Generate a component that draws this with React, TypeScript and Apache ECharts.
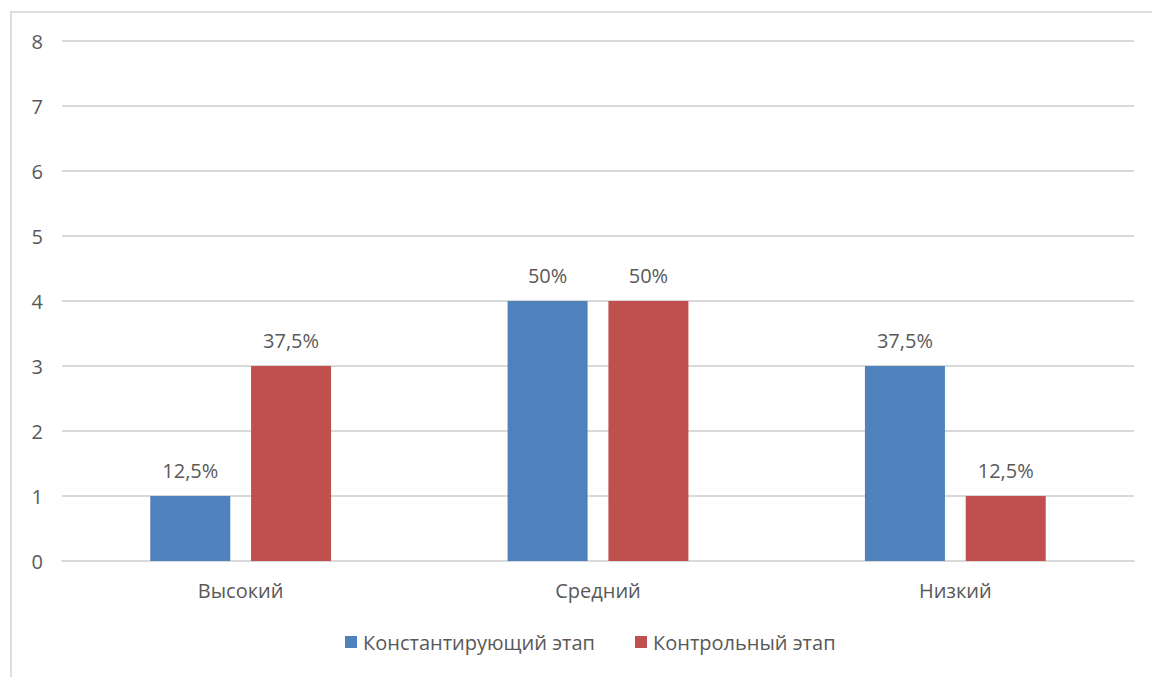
import React, { useEffect, useRef } from "react";
import * as echarts from "echarts";

const categories = ["Высокий", "Средний", "Низкий"];
const seriesNames = ["Константирующий этап", "Контрольный этап"];
const constValues = [1, 4, 3];
const controlValues = [3, 4, 1];
const constLabels = ["12,5%", "50%", "37,5%"];
const controlLabels = ["37,5%", "50%", "12,5%"];
const yTicks = { min: 0, max: 8, interval: 1 };

const FONT = "'Open Sans', 'Noto Sans', sans-serif";
const TEXT = "#595959";
const FS = 20;

export default function App() {
  const ref = useRef<HTMLDivElement>(null);
  useEffect(() => {
    if (!ref.current) return;
    const chart = echarts.init(ref.current, null, { renderer: "svg" });
    const mkLabel = (labels: string[]) => ({
      show: true,
      position: "top" as const,
      distance: 16,
      color: TEXT,
      fontSize: FS,
      fontFamily: FONT,
      formatter: (p: any) => labels[p.dataIndex],
    });
    chart.setOption({
      animation: false,
      textStyle: { fontFamily: FONT },
      grid: { left: 62, right: 18, top: 41, bottom: 116, containLabel: false },
      legend: {
        bottom: 20,
        left: 340,
        itemWidth: 12,
        itemHeight: 12,
        itemGap: 40,
        icon: "rect",
        textStyle: { color: TEXT, fontSize: FS, fontFamily: FONT, padding: [0, 0, 0, 1] },
        data: seriesNames,
      },
      xAxis: {
        type: "category",
        data: categories,
        axisLine: { lineStyle: { color: "#d9d9d9", width: 2 } },
        axisTick: { show: false },
        axisLabel: { color: TEXT, fontSize: FS, fontFamily: FONT, margin: 19 },
      },
      yAxis: {
        type: "value",
        min: yTicks.min,
        max: yTicks.max,
        interval: yTicks.interval,
        axisLine: { show: false },
        axisTick: { show: false },
        splitLine: { lineStyle: { color: "#d9d9d9", width: 2 } },
        axisLabel: { color: TEXT, fontSize: FS, fontFamily: FONT, margin: 19 },
      },
      series: [
        {
          name: seriesNames[0],
          type: "bar",
          data: constValues,
          barWidth: 80,
          barGap: "26%",
          itemStyle: { color: "#4F81BD" },
          label: mkLabel(constLabels),
        },
        {
          name: seriesNames[1],
          type: "bar",
          data: controlValues,
          barWidth: 80,
          barGap: "26%",
          itemStyle: { color: "#C0504D" },
          label: mkLabel(controlLabels),
        },
      ],
    });
    return () => chart.dispose();
  }, []);
  return (
    <div style={{ position: "fixed", left: 0, top: 0, width: 1152, height: 677, background: "#fff", overflow: "hidden" }}>
      <div
        style={{
          position: "absolute",
          left: 10,
          top: 11,
          width: 1200,
          height: 720,
          border: "2px solid #dedede",
          boxSizing: "border-box",
        }}
      />
      <div ref={ref} style={{ position: "absolute", left: 0, top: 0, width: 1152, height: 677 }} />
    </div>
  );
}
